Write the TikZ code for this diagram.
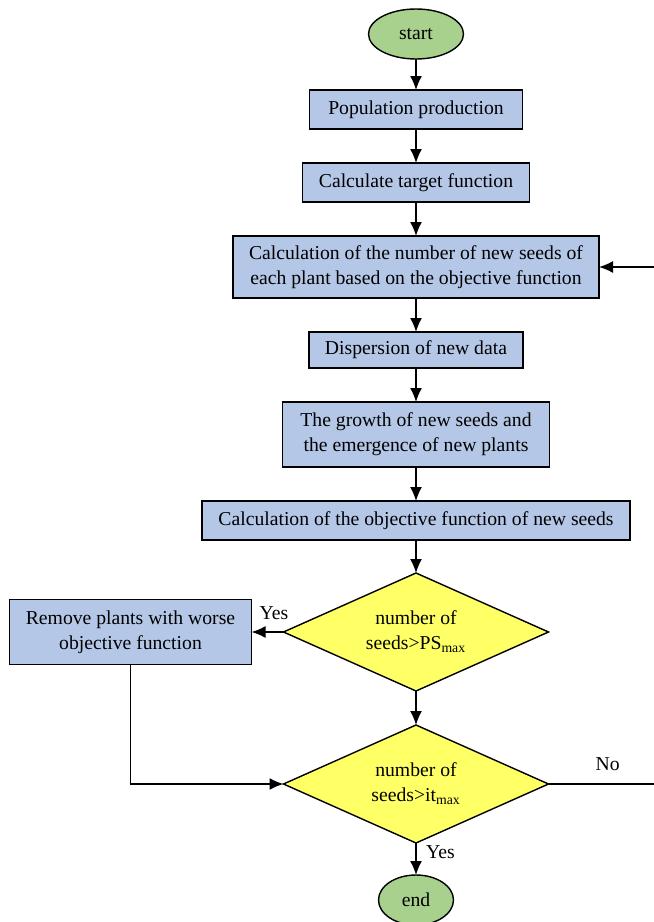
\documentclass[tikz,border=0pt]{standalone}
\usepackage{fontspec}
\setmainfont{Liberation Serif}
\usetikzlibrary{positioning,shapes.geometric,arrows.meta}
\definecolor{boxblue}{RGB}{180,199,231}
\definecolor{endgreen}{RGB}{169,209,142}
\definecolor{askyellow}{RGB}{255,255,102}

\begin{document}
\begin{tikzpicture}[font=\fontsize{11.2}{14.2}\selectfont,
  process/.style={rectangle, draw, thick, fill=boxblue, align=center, inner sep=2pt, outer sep=0pt},
  terminal/.style={ellipse, draw, thick, fill=endgreen, inner sep=0pt, outer sep=0pt, minimum width=1.9cm, minimum height=1cm},
  decision/.style={diamond, draw, thick, fill=askyellow, align=center, aspect=2.25, inner sep=0pt, outer sep=0pt, minimum width=5.3cm, minimum height=2.36cm},
  flow/.style={-{Latex[length=2.8mm,width=2.4mm]}, thick}]
      \useasboundingbox (0,0) rectangle (13.08,-18.44);
      \coordinate (edge) at (13.08,0);
      \node (start) [terminal] at (8.32,-0.68) {start};
      \node (pop) [process, below=0.62cm of start, minimum width=4.26cm, minimum height=0.78cm] {Population production};
      \node (target) [process, below=0.68cm of pop, minimum width=4.54cm, minimum height=0.78cm] {Calculate target function};
      \node (seeds) [process, below=0.68cm of target, minimum width=7.32cm, minimum height=1.24cm] {Calculation of the number of new seeds of\\each plant based on the objective function};
      \node (disp) [process, below=0.68cm of seeds, minimum width=4.28cm, minimum height=0.72cm] {Dispersion of new data};
      \node (grow) [process, below=0.68cm of disp, minimum width=5.34cm, minimum height=1.3cm] {The growth of new seeds and\\the emergence of new plants};
      \node (obj) [process, below=0.68cm of grow, minimum width=8.56cm, minimum height=0.78cm] {Calculation of the objective function of new seeds};
      \node (ps) [decision, below=0.66cm of obj] {number of\\seeds>PS\textsubscript{max}};
      \node (remove) [process, left=0.64cm of ps, minimum width=4.84cm, minimum height=1.3cm] {Remove plants with worse\\objective function};
      \node (it) [decision, below=0.68cm of ps] {number of\\seeds>it\textsubscript{max}};
      \node (end) [terminal, below=0.64cm of it, minimum width=1.5cm] {end};
      % main line
      \draw[flow] (start) -- (pop);
      \draw[flow] (pop) -- (target);
      \draw[flow] (target) -- (seeds);
      \draw[flow] (seeds) -- (disp);
      \draw[flow] (disp) -- (grow);
      \draw[flow] (grow) -- (obj);
      \draw[flow] (obj) -- (ps);
      \draw[flow] (ps) -- (it);
      \draw[flow] (it) -- node[right, pos=0.3, xshift=2pt] {Yes} (end);
      % branches
      \draw[flow] (ps.west) -- node[above, pos=0.3, yshift=3pt] {Yes} (remove.east);
      \draw[flow] (remove.south) |- (it.west);
      \draw[thick] (it.east) -- node[above, pos=0.56, yshift=4pt] {No} (it.east -| edge);
      \draw[flow] (seeds.east -| edge) -- (seeds.east);
    \end{tikzpicture}
\end{document}
